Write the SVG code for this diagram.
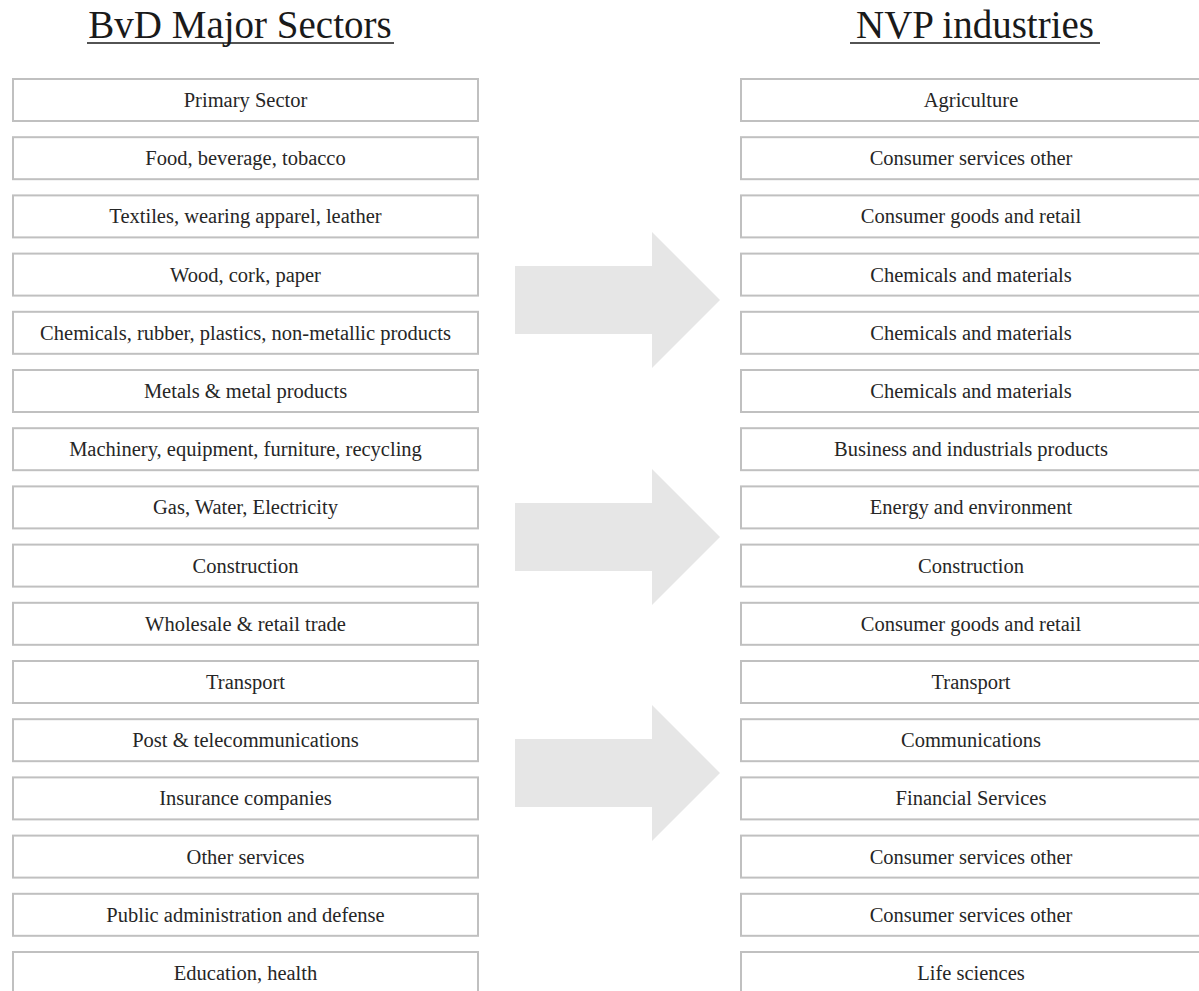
<svg xmlns="http://www.w3.org/2000/svg" width="1199" height="991" viewBox="0 0 1199 991">
<style>
.bg{fill:#ffffff}
.box{fill:#ffffff;stroke:#c0c0c0;stroke-width:2}
.t{font-family:"Liberation Serif","Times New Roman",serif;font-size:20.5px;fill:#262626;text-anchor:middle}
.title{font-family:"Liberation Serif","Times New Roman",serif;font-size:39px;fill:#1a1a1a;text-anchor:middle}
.ul{stroke:#1a1a1a;stroke-width:1.5}
.arrow{fill:#e6e6e6}
</style>
<defs>
<polygon id="arr" points="515,266 652,266 652,232 720,300 652,368 652,334 515,334"/>
</defs>
<rect class="bg" x="0" y="0" width="1199" height="991"/>
<g id="titles">
<text class="title" x="240" y="38">BvD Major Sectors</text>
<line class="ul" x1="87" y1="43" x2="394" y2="43"/>
<text class="title" x="975" y="38">NVP industries</text>
<line class="ul" x1="850" y1="43" x2="1100" y2="43"/>
</g>
<g id="connectors">
<use href="#arr" class="arrow"/>
<use href="#arr" class="arrow" transform="translate(0,237)"/>
<use href="#arr" class="arrow" transform="translate(0,473)"/>
</g>
<g id="left">
<g id="l1"><rect class="box" x="13" y="79" width="465" height="42"/><text class="t" x="245.5" y="107">Primary Sector</text></g>
<g id="l2"><rect class="box" x="13" y="137.2" width="465" height="42"/><text class="t" x="245.5" y="165.2">Food, beverage, tobacco</text></g>
<g id="l3"><rect class="box" x="13" y="195.4" width="465" height="42"/><text class="t" x="245.5" y="223.4">Textiles, wearing apparel, leather</text></g>
<g id="l4"><rect class="box" x="13" y="253.6" width="465" height="42"/><text class="t" x="245.5" y="281.6">Wood, cork, paper</text></g>
<g id="l5"><rect class="box" x="13" y="311.8" width="465" height="42"/><text class="t" x="245.5" y="339.8">Chemicals, rubber, plastics, non-metallic products</text></g>
<g id="l6"><rect class="box" x="13" y="370" width="465" height="42"/><text class="t" x="245.5" y="398">Metals &amp; metal products</text></g>
<g id="l7"><rect class="box" x="13" y="428.2" width="465" height="42"/><text class="t" x="245.5" y="456.2">Machinery, equipment, furniture, recycling</text></g>
<g id="l8"><rect class="box" x="13" y="486.4" width="465" height="42"/><text class="t" x="245.5" y="514.4">Gas, Water, Electricity</text></g>
<g id="l9"><rect class="box" x="13" y="544.6" width="465" height="42"/><text class="t" x="245.5" y="572.6">Construction</text></g>
<g id="l10"><rect class="box" x="13" y="602.8" width="465" height="42"/><text class="t" x="245.5" y="630.8">Wholesale &amp; retail trade</text></g>
<g id="l11"><rect class="box" x="13" y="661" width="465" height="42"/><text class="t" x="245.5" y="689">Transport</text></g>
<g id="l12"><rect class="box" x="13" y="719.2" width="465" height="42"/><text class="t" x="245.5" y="747.2">Post &amp; telecommunications</text></g>
<g id="l13"><rect class="box" x="13" y="777.4" width="465" height="42"/><text class="t" x="245.5" y="805.4">Insurance companies</text></g>
<g id="l14"><rect class="box" x="13" y="835.6" width="465" height="42"/><text class="t" x="245.5" y="863.6">Other services</text></g>
<g id="l15"><rect class="box" x="13" y="893.8" width="465" height="42"/><text class="t" x="245.5" y="921.8">Public administration and defense</text></g>
<g id="l16"><rect class="box" x="13" y="952" width="465" height="42"/><text class="t" x="245.5" y="980">Education, health</text></g>
</g>
<g id="right">
<g id="r1"><rect class="box" x="741" y="79" width="465" height="42"/><text class="t" x="971" y="107">Agriculture</text></g>
<g id="r2"><rect class="box" x="741" y="137.2" width="465" height="42"/><text class="t" x="971" y="165.2">Consumer services other</text></g>
<g id="r3"><rect class="box" x="741" y="195.4" width="465" height="42"/><text class="t" x="971" y="223.4">Consumer goods and retail</text></g>
<g id="r4"><rect class="box" x="741" y="253.6" width="465" height="42"/><text class="t" x="971" y="281.6">Chemicals and materials</text></g>
<g id="r5"><rect class="box" x="741" y="311.8" width="465" height="42"/><text class="t" x="971" y="339.8">Chemicals and materials</text></g>
<g id="r6"><rect class="box" x="741" y="370" width="465" height="42"/><text class="t" x="971" y="398">Chemicals and materials</text></g>
<g id="r7"><rect class="box" x="741" y="428.2" width="465" height="42"/><text class="t" x="971" y="456.2">Business and industrials products</text></g>
<g id="r8"><rect class="box" x="741" y="486.4" width="465" height="42"/><text class="t" x="971" y="514.4">Energy and environment</text></g>
<g id="r9"><rect class="box" x="741" y="544.6" width="465" height="42"/><text class="t" x="971" y="572.6">Construction</text></g>
<g id="r10"><rect class="box" x="741" y="602.8" width="465" height="42"/><text class="t" x="971" y="630.8">Consumer goods and retail</text></g>
<g id="r11"><rect class="box" x="741" y="661" width="465" height="42"/><text class="t" x="971" y="689">Transport</text></g>
<g id="r12"><rect class="box" x="741" y="719.2" width="465" height="42"/><text class="t" x="971" y="747.2">Communications</text></g>
<g id="r13"><rect class="box" x="741" y="777.4" width="465" height="42"/><text class="t" x="971" y="805.4">Financial Services</text></g>
<g id="r14"><rect class="box" x="741" y="835.6" width="465" height="42"/><text class="t" x="971" y="863.6">Consumer services other</text></g>
<g id="r15"><rect class="box" x="741" y="893.8" width="465" height="42"/><text class="t" x="971" y="921.8">Consumer services other</text></g>
<g id="r16"><rect class="box" x="741" y="952" width="465" height="42"/><text class="t" x="971" y="980">Life sciences</text></g>
</g>
</svg>
